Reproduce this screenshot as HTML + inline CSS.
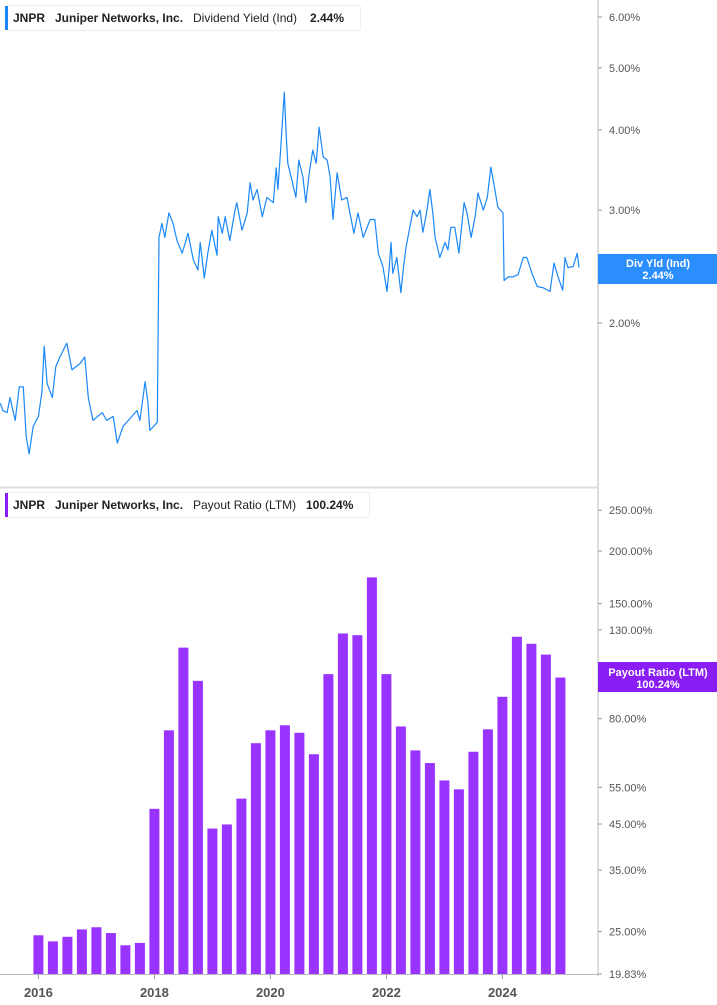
<!DOCTYPE html>
<html><head><meta charset="utf-8">
<style>
body{margin:0;background:#fff;font-family:"Liberation Sans",Arial,sans-serif;}
svg{display:block}
text{font-family:"Liberation Sans",Arial,sans-serif}
</style></head>
<body>
<svg id="chart" width="717" height="1005" viewBox="0 0 717 1005">
  <rect x="0" y="0" width="717" height="1005" fill="#fff"/>
  <line x1="598" y1="0" x2="598" y2="976" stroke="#bbb" stroke-width="1"/>
  <line x1="0" y1="487.5" x2="598" y2="487.5" stroke="#ddd" stroke-width="2"/>
  <line x1="0" y1="974.5" x2="598" y2="974.5" stroke="#bbb" stroke-width="1"/>
  <g id="topAxis"></g>
  <g id="botAxis"></g>
  <g id="xAxis"></g>
  <g id="bars"></g>
  <path id="yieldLine" fill="none" stroke="#1a88f8" stroke-width="1.2" stroke-linejoin="round"/>

  <g>
    <rect x="5.5" y="5.5" width="355" height="25" rx="2" fill="#fff" stroke="#eee"/>
    <rect x="5" y="6" width="3" height="24" fill="#1a88f8"/>
    <text x="13" y="22" font-size="12" font-weight="bold" fill="#222">JNPR</text>
    <text x="55" y="22" font-size="12" font-weight="bold" fill="#222">Juniper Networks, Inc.</text>
    <text x="193" y="22" font-size="12" fill="#222">Dividend Yield (Ind)</text>
    <text x="310" y="22" font-size="12" font-weight="bold" fill="#222">2.44%</text>
  </g>
  <g>
    <rect x="5.5" y="492.5" width="364" height="25" rx="2" fill="#fff" stroke="#eee"/>
    <rect x="5" y="493" width="3" height="24" fill="#8a1cf4"/>
    <text x="13" y="509" font-size="12" font-weight="bold" fill="#222">JNPR</text>
    <text x="55" y="509" font-size="12" font-weight="bold" fill="#222">Juniper Networks, Inc.</text>
    <text x="193" y="509" font-size="12" fill="#222">Payout Ratio (LTM)</text>
    <text x="306" y="509" font-size="12" font-weight="bold" fill="#222">100.24%</text>
  </g>
  <g>
    <rect x="598" y="254" width="119" height="30" fill="#2b8eff"/>
    <text x="658" y="267" font-size="11" font-weight="bold" fill="#fff" text-anchor="middle">Div Yld (Ind)</text>
    <text x="658" y="279" font-size="11" font-weight="bold" fill="#fff" text-anchor="middle">2.44%</text>
  </g>
  <g>
    <rect x="598" y="662" width="119" height="30" fill="#8a1cf4"/>
    <text x="658" y="676" font-size="11" font-weight="bold" fill="#fff" text-anchor="middle">Payout Ratio (LTM)</text>
    <text x="658" y="688" font-size="11" font-weight="bold" fill="#fff" text-anchor="middle">100.24%</text>
  </g>
</svg>
<script>
const yieldTicks = [6, 5, 4, 3, 2];
const payoutTicks = [250, 200, 150, 130, 80, 55, 45, 35, 25, 19.83];
const yearTicks = [2016, 2018, 2020, 2022, 2024];
const payoutValues = [24.5,23.7,24.3,25.3,25.6,24.8,23.2,23.5,48.9,75.1,118.0,98.4,43.9,44.9,51.7,70.0,75.1,77.2,74.1,65.9,102.1,127.5,126.3,173.2,102.1,76.7,67.3,62.8,57.1,54.4,66.8,75.5,90.2,125.2,120.5,113.6,100.2];
const payoutStartYear = 2016;
const yieldDates = [2015.34,2015.39,2015.46,2015.51,2015.60,2015.67,2015.74,2015.79,2015.84,2015.91,2016.00,2016.06,2016.10,2016.15,2016.24,2016.30,2016.37,2016.49,2016.58,2016.72,2016.80,2016.86,2016.94,2017.10,2017.18,2017.29,2017.36,2017.46,2017.55,2017.70,2017.75,2017.84,2017.89,2017.92,2018.05,2018.08,2018.13,2018.18,2018.25,2018.32,2018.39,2018.48,2018.58,2018.67,2018.75,2018.79,2018.86,2018.92,2018.99,2019.08,2019.10,2019.17,2019.22,2019.30,2019.39,2019.42,2019.51,2019.60,2019.65,2019.70,2019.77,2019.86,2019.94,2020.05,2020.10,2020.13,2020.18,2020.24,2020.27,2020.30,2020.37,2020.44,2020.49,2020.56,2020.61,2020.67,2020.73,2020.79,2020.84,2020.91,2020.98,2021.03,2021.08,2021.15,2021.23,2021.32,2021.37,2021.44,2021.51,2021.60,2021.72,2021.80,2021.86,2021.94,2022.01,2022.05,2022.08,2022.11,2022.18,2022.25,2022.29,2022.34,2022.37,2022.46,2022.53,2022.58,2022.63,2022.70,2022.75,2022.80,2022.84,2022.92,2023.01,2023.06,2023.11,2023.18,2023.25,2023.34,2023.39,2023.46,2023.53,2023.58,2023.67,2023.74,2023.80,2023.87,2023.92,2024.01,2024.03,2024.10,2024.18,2024.27,2024.36,2024.42,2024.51,2024.60,2024.70,2024.82,2024.89,2024.96,2025.04,2025.08,2025.13,2025.22,2025.29,2025.32];
const yieldValues = [1.50,1.46,1.45,1.53,1.41,1.59,1.59,1.33,1.25,1.38,1.43,1.56,1.84,1.61,1.53,1.71,1.77,1.86,1.69,1.73,1.77,1.53,1.41,1.45,1.41,1.43,1.30,1.38,1.41,1.46,1.41,1.62,1.50,1.36,1.40,2.72,2.86,2.72,2.97,2.86,2.69,2.57,2.76,2.51,2.42,2.67,2.35,2.57,2.79,2.55,2.93,2.76,2.93,2.69,3.00,3.08,2.79,2.97,3.31,3.11,3.23,2.93,3.14,3.08,3.49,3.23,3.76,4.58,3.96,3.55,3.34,3.14,3.59,3.38,3.08,3.43,3.72,3.55,4.04,3.63,3.59,3.38,2.90,3.43,3.11,3.14,2.97,2.76,2.97,2.72,2.90,2.90,2.57,2.45,2.24,2.45,2.67,2.39,2.53,2.23,2.42,2.63,2.72,3.00,2.93,3.00,2.77,3.00,3.23,2.97,2.72,2.53,2.67,2.60,2.82,2.82,2.57,3.08,2.97,2.72,2.93,3.19,3.00,3.14,3.50,3.23,3.03,2.97,2.33,2.36,2.36,2.38,2.53,2.53,2.39,2.28,2.27,2.24,2.48,2.36,2.25,2.53,2.44,2.45,2.57,2.44];

const NS = "http://www.w3.org/2000/svg";
function xScale(yr){ return 38.4 + (yr - 2016) * 58; }
function yTop(v){ return 323 - 278.5 * Math.log(v / 2); }
function yBot(v){ return 974 - 183 * Math.log(v / 19.83); }
function mk(tag, attrs, parent){
  const el = document.createElementNS(NS, tag);
  for (const k in attrs) el.setAttribute(k, attrs[k]);
  parent.appendChild(el);
  return el;
}
const topAxis = document.getElementById('topAxis');
yieldTicks.forEach(t => {
  const y = yTop(t);
  const tk = mk('line', {x1:598, x2:602, y1:y, y2:y, stroke:'#999'}, topAxis);
  
  
  const tx = mk('text', {x:609, y:y+4, 'font-size':11, fill:'#555'}, topAxis);
  tx.textContent = t.toFixed(2) + '%';
  
  
});
const botAxis = document.getElementById('botAxis');
payoutTicks.forEach(t => {
  const y = yBot(t);
  const tk = mk('line', {x1:598, x2:602, y1:y, y2:y, stroke:'#999'}, botAxis);
  
  
  const tx = mk('text', {x:609, y:y+4, 'font-size':11, fill:'#555'}, botAxis);
  tx.textContent = t.toFixed(2) + '%';
  
  
});
const xAxis = document.getElementById('xAxis');
yearTicks.forEach(yr => {
  const x = xScale(yr);
  const tk = mk('line', {x1:x, x2:x, y1:975, y2:979, stroke:'#999'}, xAxis);
  
  
  const tx = mk('text', {x:x, y:997, 'font-size':13, 'font-weight':'bold', fill:'#555', 'text-anchor':'middle'}, xAxis);
  tx.textContent = String(yr);
  
  
});
const bars = document.getElementById('bars');
payoutValues.forEach((v, i) => {
  const cx = xScale(payoutStartYear + i * 0.25);
  const y = yBot(v);
  const r = mk('rect', {x:cx-5, y:y, width:10, height:974-y, fill:'#9933ff'}, bars);
  
  
});
let d = '';
yieldDates.forEach((yr, i) => {
  d += (i ? 'L' : 'M') + xScale(yr).toFixed(1) + ',' + yTop(yieldValues[i]).toFixed(1);
});
document.getElementById('yieldLine').setAttribute('d', d);
</script>
</body></html>
